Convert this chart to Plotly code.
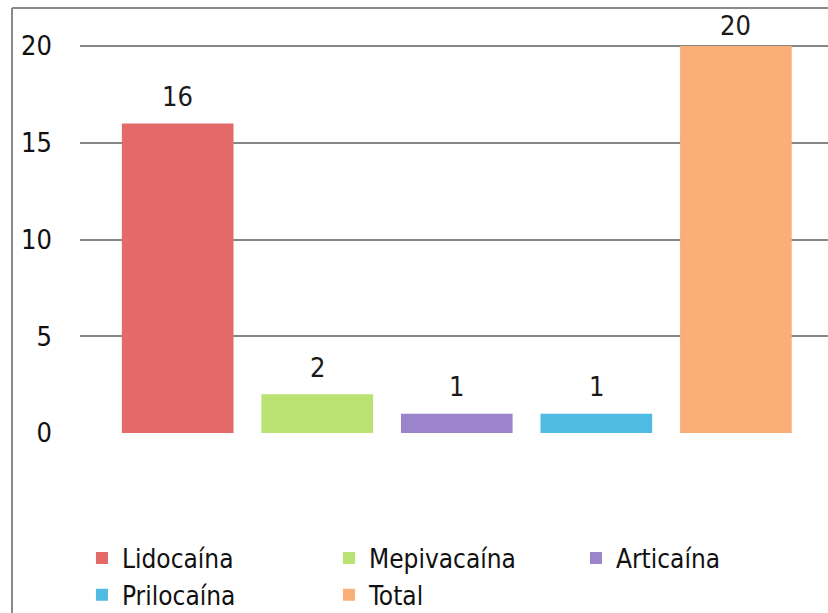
import plotly.graph_objects as go

series = ["Lidocaína", "Mepivacaína", "Articaína", "Prilocaína", "Total"]
values = [16, 2, 1, 1, 20]
colors = ["#e46a6a", "#b9e272", "#9c84cc", "#4fbbe2", "#fbaf78"]
positions = [0, 1, 2, 3, 4]
y_ticks = [0, 5, 10, 15, 20]

FONT = "DejaVu Sans Condensed, DejaVu Sans"
fig = go.Figure()
annotations = []
for name, v, c, p in zip(series, values, colors, positions):
    fig.add_trace(go.Bar(
        x=[p], y=[v], name=name, width=0.8,
        marker=dict(color=c, line=dict(width=0)),
    ))
    annotations.append(dict(
        x=p, y=v, xref="x", yref="y", text=str(v), showarrow=False,
        yanchor="middle", yshift=27 if v < 20 else 21,
        font=dict(family=FONT, size=27, color="#1a1a1a"),
    ))

fig.update_layout(
    width=828, height=613,
    margin=dict(l=80, r=0, t=34, b=180),
    paper_bgcolor="white", plot_bgcolor="white",
    showlegend=True,
    annotations=annotations,
    legend=dict(
        orientation="h", xref="container", yref="container",
        x=0.099, y=0.128, xanchor="left", yanchor="top",
        entrywidth=202, entrywidthmode="pixels",
        font=dict(family=FONT, size=26, color="#111"),
        itemwidth=30, tracegroupgap=0,
    ),
    xaxis=dict(range=[-0.7, 4.66], showticklabels=False, showgrid=False,
               zeroline=False, showline=False, ticks=""),
    yaxis=dict(range=[0, 20.62], tickvals=y_ticks, showgrid=True,
               gridcolor="#868686", gridwidth=2, zeroline=False, showline=False,
               ticks="", ticklabelstandoff=27,
               tickfont=dict(family=FONT, size=27, color="#111")),
    shapes=[
        dict(type="line", xref="paper", yref="paper", x0=-0.0909, x1=-0.0909,
             y0=1.065, y1=-0.46, line=dict(color="#8a8a8a", width=2)),
        dict(type="line", xref="paper", yref="paper", x0=-0.0909, x1=1.01,
             y0=1.065, y1=1.065, line=dict(color="#8a8a8a", width=2)),
    ],
)

fig.write_html("out.html", config={"displayModeBar": False},
               post_script="document.body.style.margin='0';")
